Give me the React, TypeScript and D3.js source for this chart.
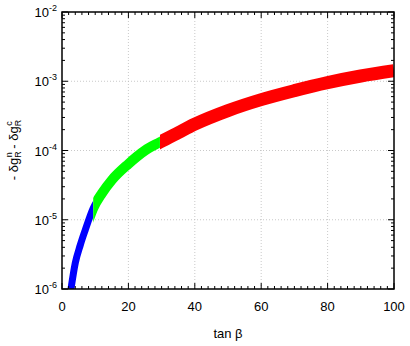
import React from "react";
import * as d3 from "d3";

// tan(beta) samples along the middle of the band, with the value read there
const tanBeta = [2.7, 4, 5.5, 7, 9.4, 12, 15, 20, 25, 29.5, 35, 40, 50, 60, 70, 80, 90, 100];
const delta = [1.0e-6, 2.37e-6, 4.3e-6, 7.1e-6, 1.47e-5, 2.4e-5, 3.74e-5, 6.4e-5, 1.0e-4, 1.32e-4, 1.81e-4, 2.4e-4, 3.77e-4, 5.43e-4, 7.32e-4, 9.55e-4, 1.19e-3, 1.42e-3];

// colour segments of the scan (tan beta ranges)
const segments = [
  { from: 0, to: 9.4, color: "#0000ff", width: 7 },
  { from: 9.4, to: 29.5, color: "#00ff00", width: 10 },
  { from: 29.5, to: 100, color: "#ff0000", width: 13 },
];

const xTicks = [0, 20, 40, 60, 80, 100];
const yExps = [-6, -5, -4, -3, -2];

const W = 410;
const H = 346;
const m = { left: 62, right: 16, top: 12, bottom: 57 };

const App = () => {
  const x = d3.scaleLinear().domain([0, 100]).range([m.left, W - m.right]);
  const y = d3.scaleLog().domain([1e-6, 1e-2]).range([H - m.bottom, m.top]);
  const pts = tanBeta.map((t, i) => [t, delta[i]] as [number, number]);
  const line = d3
    .line<[number, number]>()
    .x((d) => x(d[0]))
    .y((d) => y(d[1]))
    .curve(d3.curveMonotoneX);
  const x0 = x(0);
  const x1 = x(100);
  const y0 = y(1e-6);
  const y1 = y(1e-2);

  const minorX = d3.range(2, 100, 2).filter((v) => v % 20 !== 0);
  const minorY: number[] = [];
  yExps.slice(0, -1).forEach((e) => {
    for (let k = 2; k < 10; k++) minorY.push(k * Math.pow(10, e));
  });
  const font = "Liberation Sans, Arial, sans-serif";

  return (
    <svg width={W} height={H} style={{ position: "absolute", left: 0, top: 0 }} fontFamily={font}>
      <defs>
        <clipPath id="plot">
          <rect x={x0} y={y1} width={x1 - x0} height={y0 - y1} />
        </clipPath>
        {segments.map((s, i) => (
          <clipPath id={"seg" + i} key={i}>
            <rect x={x(s.from)} y={0} width={x(s.to) - x(s.from)} height={H} />
          </clipPath>
        ))}
      </defs>
      {/* grid */}
      {xTicks.slice(1, -1).map((t) => (
        <line key={"gx" + t} x1={x(t)} x2={x(t)} y1={y1} y2={y0} stroke="#bbb" strokeWidth={0.8} strokeDasharray="1,2" />
      ))}
      {yExps.slice(1, -1).map((e) => (
        <line key={"gy" + e} x1={x0} x2={x1} y1={y(Math.pow(10, e))} y2={y(Math.pow(10, e))} stroke="#bbb" strokeWidth={0.8} strokeDasharray="1,2" />
      ))}
      {/* band */}
      <g clipPath="url(#plot)">
        {segments.map((s, i) => (
          <g key={i} clipPath={`url(#seg${i})`}>
            <path d={line(pts) || ""} fill="none" stroke={s.color} strokeWidth={s.width} strokeLinejoin="round" />
          </g>
        ))}
      </g>
      {/* ticks */}
      {xTicks.map((t) => (
        <g key={"tx" + t}>
          <line x1={x(t)} x2={x(t)} y1={y0} y2={y0 - 6} stroke="#000" />
          <line x1={x(t)} x2={x(t)} y1={y1} y2={y1 + 6} stroke="#000" />
          <text x={x(t)} y={y0 + 22} fontSize={13} textAnchor="middle">{t}</text>
        </g>
      ))}
      {minorX.map((t) => (
        <g key={"mx" + t}>
          <line x1={x(t)} x2={x(t)} y1={y0} y2={y0 - 3} stroke="#000" />
          <line x1={x(t)} x2={x(t)} y1={y1} y2={y1 + 3} stroke="#000" />
        </g>
      ))}
      {yExps.map((e) => (
        <g key={"ty" + e}>
          <line x1={x0} x2={x0 + 6} y1={y(Math.pow(10, e))} y2={y(Math.pow(10, e))} stroke="#000" />
          <line x1={x1} x2={x1 - 6} y1={y(Math.pow(10, e))} y2={y(Math.pow(10, e))} stroke="#000" />
          <text x={x0 - 5} y={y(Math.pow(10, e)) + 5} fontSize={13} textAnchor="end">
            10<tspan fontSize={9} dy={-6}>{e}</tspan>
          </text>
        </g>
      ))}
      {minorY.map((v, i) => (
        <g key={"my" + i}>
          <line x1={x0} x2={x0 + 3} y1={y(v)} y2={y(v)} stroke="#000" />
          <line x1={x1} x2={x1 - 3} y1={y(v)} y2={y(v)} stroke="#000" />
        </g>
      ))}
      <rect x={x0} y={y1} width={x1 - x0} height={y0 - y1} fill="none" stroke="#000" strokeWidth={1.5} />
      {/* axis titles */}
      <text x={(x0 + x1) / 2} y={338} fontSize={13} textAnchor="middle">tan β</text>
      <text transform="translate(18,150) rotate(-90)" fontSize={13} textAnchor="middle">
        - δg<tspan fontSize={9} dy={3}>R</tspan>
        <tspan fontSize={9} dx={-6} dy={-9}>n</tspan>
        <tspan dy={6}> - δg</tspan>
        <tspan fontSize={9} dy={3}>R</tspan>
        <tspan fontSize={9} dx={-6} dy={-9}>c</tspan>
      </text>
    </svg>
  );
};

export default App;
